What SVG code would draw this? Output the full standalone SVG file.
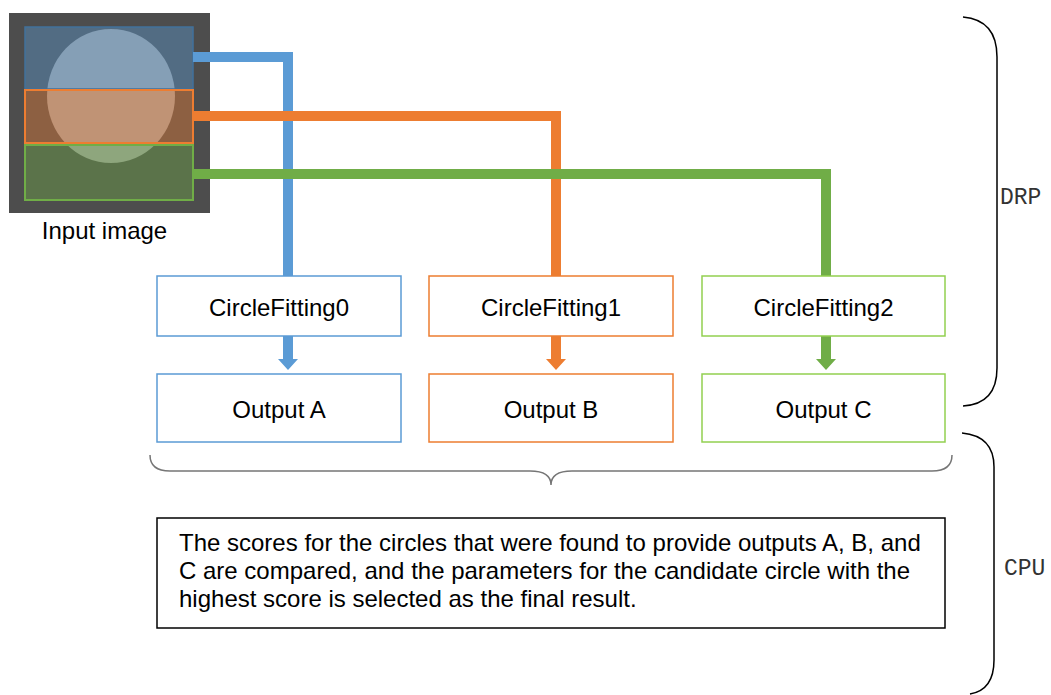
<svg xmlns="http://www.w3.org/2000/svg" width="1051" height="695" viewBox="0 0 1051 695">
<style>
.t{font-family:"Liberation Sans",Arial,sans-serif;font-size:24px;fill:#000}
.m{font-family:"Liberation Mono","Courier New",monospace;font-size:23px;fill:#333}
.box{fill:#fff;stroke-width:1.5}
.conn{fill:none;stroke-width:10;stroke-linejoin:miter}
.brace{fill:none;stroke:#000;stroke-width:1.5}
</style>

<g id="input-image">
<rect x="9" y="13" width="201" height="200" fill="#4D4D4D"/>
<ellipse cx="111" cy="96" rx="64" ry="67" fill="#A2A2A2"/>
<rect x="25" y="27" width="168" height="62" fill="#5B9BD5" fill-opacity="0.4" stroke="#41719C" stroke-width="1.5"/>
<rect x="25" y="90" width="168" height="53" fill="#ED7D31" fill-opacity="0.4" stroke="#ED7D31" stroke-width="2"/>
<rect x="25" y="145" width="168" height="55" fill="#70AD47" fill-opacity="0.4" stroke="#70AD47" stroke-width="2"/>
<text class="t" x="104.5" y="239" text-anchor="middle">Input image</text>
</g>

<g id="connectors">
<path class="conn" d="M193,57 L288,57 L288,277" stroke="#5B9BD5"/>
<path class="conn" d="M193,116 L556,116 L556,277" stroke="#ED7D31"/>
<path class="conn" d="M193,174 L826,174 L826,277" stroke="#70AD47"/>
<path d="M283,336 L293,336 L293,359 L298,359 L288,370 L278,359 L283,359 Z" fill="#5B9BD5"/>
<path d="M551,336 L561,336 L561,359 L566,359 L556,370 L546,359 L551,359 Z" fill="#ED7D31"/>
<path d="M821,336 L831,336 L831,359 L836,359 L826,370 L816,359 L821,359 Z" fill="#70AD47"/>
</g>

<g id="cf0"><rect class="box" x="157" y="276" width="244" height="60" stroke="#5B9BD5"/><text class="t" x="279" y="316" text-anchor="middle">CircleFitting0</text></g>
<g id="cf1"><rect class="box" x="429" y="276" width="244" height="60" stroke="#ED7D31"/><text class="t" x="551" y="316" text-anchor="middle">CircleFitting1</text></g>
<g id="cf2"><rect class="box" x="702" y="276" width="243" height="60" stroke="#92D050"/><text class="t" x="823.5" y="316" text-anchor="middle">CircleFitting2</text></g>

<g id="outA"><rect class="box" x="157" y="374" width="244" height="68" stroke="#5B9BD5"/><text class="t" x="279" y="418" text-anchor="middle">Output A</text></g>
<g id="outB"><rect class="box" x="429" y="374" width="244" height="68" stroke="#ED7D31"/><text class="t" x="551" y="418" text-anchor="middle">Output B</text></g>
<g id="outC"><rect class="box" x="702" y="374" width="243" height="68" stroke="#92D050"/><text class="t" x="823.5" y="418" text-anchor="middle">Output C</text></g>

<g id="brace-outputs">
<path d="M150,455 Q150,471 170,471 L530,471 Q551,471 551,485 Q551,471 572,471 L932,471 Q952,471 952,455" fill="none" stroke="#767676" stroke-width="1.5"/>
</g>

<g id="result">
<rect x="157" y="518" width="788" height="110" fill="#fff" stroke="#000" stroke-width="1.5"/>
<text class="t" x="179" y="551">The scores for the circles that were found to provide outputs A, B, and</text>
<text class="t" x="179" y="579">C are compared, and the parameters for the candidate circle with the</text>
<text class="t" x="179" y="607">highest score is selected as the final result.</text>
</g>

<g id="drp">
<path class="brace" d="M963,17 Q997,20 997,57 L997,368 Q997,404 963,406"/>
<text class="m" x="1000" y="204">DRP</text>
</g>
<g id="cpu">
<path class="brace" d="M962,433 Q994,436 994,467 L994,660 Q994,690 970,694"/>
<text class="m" x="1004" y="575">CPU</text>
</g>
</svg>
